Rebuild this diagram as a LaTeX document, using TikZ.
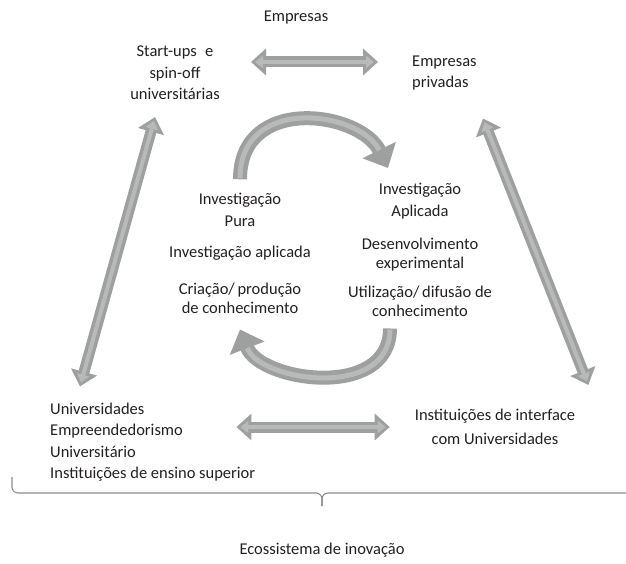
\documentclass[tikz,border=0pt]{standalone}
\usepackage{fontspec}
\setmainfont{Carlito}
\usetikzlibrary{arrows.meta}
\definecolor{arrowdark}{RGB}{158,160,160}
\definecolor{arrowlight}{RGB}{184,186,186}
\definecolor{txtgray}{RGB}{35,31,32}
\definecolor{bracegray}{RGB}{140,140,140}
\tikzstyle{boxtext} = [inner sep=0pt, text=txtgray, align=center, font=\fontsize{16.5}{21.5}\selectfont]
\tikzstyle{tighttext} = [boxtext, font=\fontsize{16.5}{19}\selectfont]
\tikzstyle{dblout} = [line width=11pt, draw=arrowdark, arrows={Triangle[length=15pt,width=26pt]-Triangle[length=15pt,width=26pt]}]
\tikzstyle{dblin} = [line width=4pt, draw=arrowlight, arrows={Triangle[length=8pt,width=12pt]-Triangle[length=8pt,width=12pt]}, shorten <=4pt, shorten >=4pt]
\tikzstyle{bendout} = [line width=14pt, draw=arrowdark, arrows={-Triangle[length=20pt,width=36pt]}]
\tikzstyle{bendin} = [line width=5pt, draw=arrowlight, shorten >=20pt, shorten <=1pt]
\tikzstyle{bracket} = [draw=bracegray, line width=1.1pt, rounded corners=6pt]
\newcommand{\dblarrow}[2]{\draw[dblout] #1 -- #2; \draw[dblin] #1 -- #2;}

\begin{document}
\begin{tikzpicture}[x=1pt,y=-1pt]
\useasboundingbox (0,0) rectangle (626,564);
% actores
\node[boxtext] (empresas) at (296,18) {Empresas};
\node[boxtext] (startups) at (175,73) {Start-ups\enspace e\\spin-off\\universitárias};
\node[boxtext, anchor=west, align=left] (privadas) at (412,73) {Empresas\\privadas};
\node[boxtext, anchor=west, align=left] (univ) at (50,442) {Universidades\\Empreendedorismo\\Universitário\\Instituições de ensino superior};
\node[boxtext, font=\fontsize{16.5}{24}\selectfont] (interface) at (495,427) {Instituições de interface\\com Universidades};
% investigacao
\node[boxtext] (pura) at (240,210) {Investigação\\Pura};
\node[boxtext] (aplicl) at (240,253) {Investigação aplicada};
\node[tighttext] (criacao) at (240,298) {Criação/\,produção\\de conhecimento};
\node[boxtext] (aplicada) at (420,201) {Investigação\\Aplicada};
\node[tighttext] (desenv) at (420,255) {Desenvolvimento\\experimental};
\node[tighttext] (utiliz) at (420,301) {Utilização/\,difusão de\\conhecimento};
\node[boxtext] (ecos) at (322,550) {Ecossistema de inovação};

% setas duplas
\dblarrow{([shift={(76pt,11pt)}]startups.center)}{([shift={(-34pt,11pt)}]privadas.west)}
\dblarrow{([shift={(-19pt,15pt)}]univ.east)}{([shift={(-25pt,0pt)}]interface.west)}
\dblarrow{([shift={(-20pt,-17pt)}]startups.south)}{([shift={(30pt,16pt)}]univ.north west)}
\dblarrow{([shift={(71pt,-28pt)}]privadas.south west)}{([shift={(13pt,24pt)}]interface.north east)}

% ciclo
\draw[bendout] ([yshift=14pt]pura.north) .. controls +(0,-85) and +(-28,-57) .. ([shift={(-32pt,15pt)}]aplicada.north);
\draw[bendin] ([yshift=14pt]pura.north) .. controls +(0,-85) and +(-28,-57) .. ([shift={(-32pt,15pt)}]aplicada.north);
\draw[bendout] ([shift={(-30pt,-12pt)}]utiliz.south) .. controls +(0,72) and +(20,52) .. ([yshift=-16pt]criacao.south);
\draw[bendin] ([shift={(-30pt,-12pt)}]utiliz.south) .. controls +(0,72) and +(20,52) .. ([yshift=-16pt]criacao.south);

% chaveta
\draw[bracket] (12,477) |- (322,493) -- (322,506);
\draw[bracket] (632,477) |- (322,493) -- (322,506);
\end{tikzpicture}
\end{document}
